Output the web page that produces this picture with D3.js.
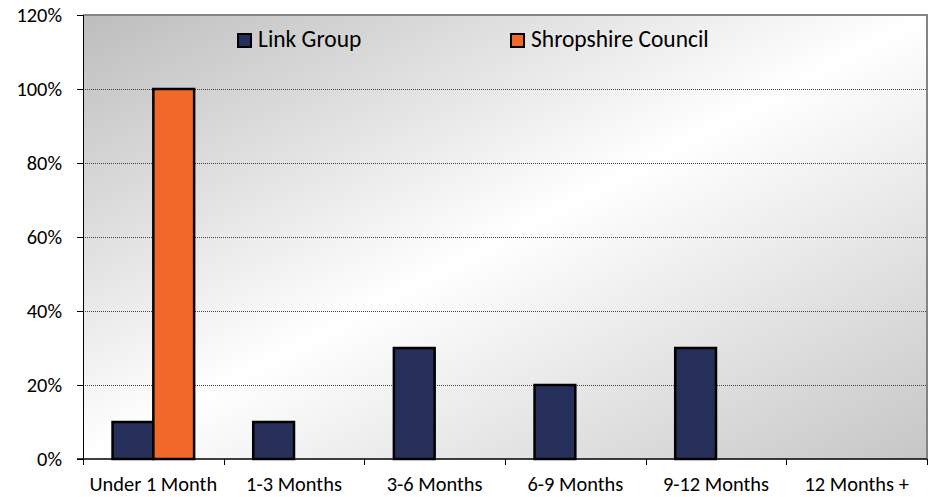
<!DOCTYPE html>
<html>
<head>
<meta charset="utf-8">
<script src="https://cdn.jsdelivr.net/npm/d3@7"></script>
<style>
  body { margin: 0; background: #fff; }
  svg text { font-family: Carlito, Calibri, "Open Sans", sans-serif; fill: #000; }
</style>
</head>
<body>
<div id="chart"></div>
<script>
const categories = ["Under 1 Month", "1-3 Months", "3-6 Months", "6-9 Months", "9-12 Months", "12 Months +"];
const seriesNames = ["Link Group", "Shropshire Council"];
const linkGroup = [10, 10, 30, 20, 30, 0];
const shropshire = [100, 0, 0, 0, 0, 0];
const yTicks = [0, 20, 40, 60, 80, 100, 120];
const colors = ["#262f59", "#f2672a"];

const width = 928, height = 497;
const margin = { top: 15, right: 1, bottom: 38, left: 83 };
const w = width - margin.left - margin.right;
const h = height - margin.top - margin.bottom;

const svg = d3.select("#chart").append("svg")
    .attr("width", width)
    .attr("height", height);

// diagonal grey-white-grey fill of the plot area
const grad = svg.append("defs").append("linearGradient")
    .attr("id", "bg")
    .attr("x1", 0).attr("y1", 0).attr("x2", 1).attr("y2", 1);
grad.append("stop").attr("offset", "0%").attr("stop-color", "#bdbdbd");
grad.append("stop").attr("offset", "50%").attr("stop-color", "#ffffff");
grad.append("stop").attr("offset", "100%").attr("stop-color", "#c6c6c6");

const g = svg.append("g")
    .attr("transform", "translate(" + margin.left + "," + margin.top + ")");

const x = d3.scaleBand()
    .domain(categories)
    .range([0, w])
    .paddingInner(0.42)
    .paddingOuter(0.21);

const x1 = d3.scaleBand()
    .domain(seriesNames)
    .range([0, x.bandwidth()]);

const y = d3.scaleLinear()
    .domain([0, 120])
    .range([h, 0]);

g.append("rect")
    .attr("width", w)
    .attr("height", h)
    .attr("fill", "url(#bg)");

// border top / right
g.append("path")
    .attr("d", "M0,0H" + w + "V" + h)
    .attr("fill", "none")
    .attr("stroke", "#848484")
    .attr("stroke-width", 2);

// dotted gridlines
g.append("g").selectAll("line")
    .data(yTicks.filter(d => d > 0 && d < 120))
    .enter()
    .append("line")
    .attr("x1", 0)
    .attr("x2", w)
    .attr("y1", d => Math.round(y(d)) + 0.5)
    .attr("y2", d => Math.round(y(d)) + 0.5)
    .attr("stroke", "#444")
    .attr("stroke-dasharray", "1,1");

const data = categories.map((c, i) => ({ cat: c, values: [linkGroup[i], shropshire[i]] }));

const groups = g.append("g").selectAll("g")
    .data(data)
    .enter()
    .append("g")
    .attr("transform", d => "translate(" + x(d.cat) + ",0)");

groups.selectAll("rect")
    .data(d => d.values.map((v, j) => ({ name: seriesNames[j], value: v, j: j })).filter(d => d.value > 0))
    .enter()
    .append("rect")
    .attr("x", d => x1(d.name))
    .attr("y", d => y(d.value))
    .attr("width", x1.bandwidth())
    .attr("height", d => y(0) - y(d.value))
    .attr("fill", d => colors[d.j])
    .attr("stroke", "#000")
    .attr("stroke-width", 2.5);

// category axis: ticks between categories
const tickPos = d3.range(categories.length + 1).map(i => i * w / categories.length);
const xAxis = g.append("g").attr("transform", "translate(0," + h + ")");
xAxis.append("line")
    .attr("x1", -6).attr("x2", w)
    .attr("stroke", "#000").attr("stroke-width", 1.5);
xAxis.selectAll(".tk")
    .data(tickPos)
    .enter()
    .append("line")
    .attr("class", "tk")
    .attr("x1", d => Math.round(d) + 0.5)
    .attr("x2", d => Math.round(d) + 0.5)
    .attr("y1", 0).attr("y2", 6)
    .attr("stroke", "#000");
xAxis.selectAll("text")
    .data(categories)
    .enter()
    .append("text")
    .attr("x", d => x(d) + x.bandwidth() / 2)
    .attr("y", 32)
    .attr("text-anchor", "middle")
    .style("font-size", "20.4px")
    .text(d => d);

// value axis
const yAxis = g.append("g");
yAxis.append("line")
    .attr("x1", 0.5).attr("x2", 0.5)
    .attr("y1", 0).attr("y2", h)
    .attr("stroke", "#000");
yAxis.selectAll(".tk")
    .data(yTicks)
    .enter()
    .append("line")
    .attr("class", "tk")
    .attr("x1", -6).attr("x2", 0)
    .attr("y1", d => Math.round(y(d)) + 0.5)
    .attr("y2", d => Math.round(y(d)) + 0.5)
    .attr("stroke", "#000");
yAxis.selectAll("text")
    .data(yTicks)
    .enter()
    .append("text")
    .attr("x", -21)
    .attr("y", d => y(d))
    .attr("dy", "0.35em")
    .attr("text-anchor", "end")
    .style("font-size", "20.4px")
    .text(d => d + "%");

// legend
const legendX = [237, 510];
const legend = svg.append("g").selectAll("g")
    .data(seriesNames)
    .enter()
    .append("g")
    .attr("transform", (d, i) => "translate(" + legendX[i] + ",33)");
legend.append("rect")
    .attr("x", 1).attr("y", 1)
    .attr("width", 13).attr("height", 13)
    .attr("fill", (d, i) => colors[i])
    .attr("stroke", "#000")
    .attr("stroke-width", 2);
legend.append("text")
    .attr("x", 21)
    .attr("y", 14)
    .style("font-size", "23.5px")
    .text(d => d);
</script>
</body>
</html>
